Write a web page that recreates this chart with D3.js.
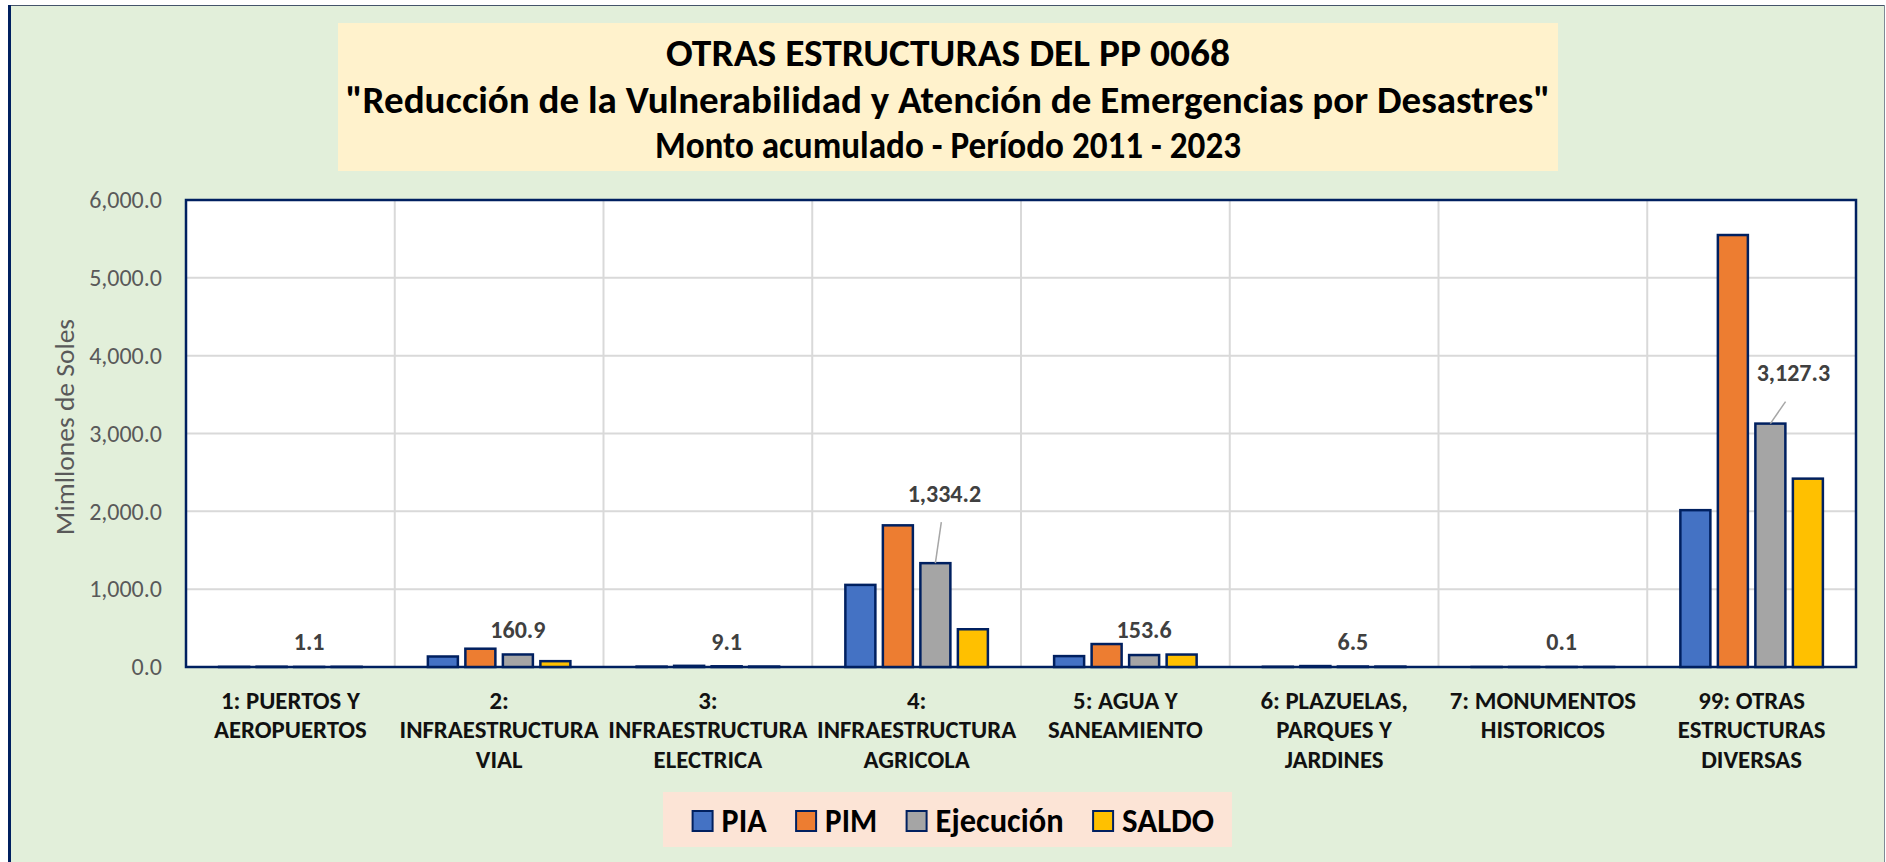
<!DOCTYPE html>
<html><head><meta charset="utf-8">
<script src="https://cdn.jsdelivr.net/npm/d3@7"></script>
<style>
html,body{margin:0;padding:0;background:#fff;}
svg{display:block;}
text{font-family:Carlito,Calibri,Lato,"Open Sans",sans-serif;}
</style>
</head><body>
<svg id="c" width="1886" height="862"></svg>
<script>
// ---------- DATA ----------
const titleLines = [
  "OTRAS ESTRUCTURAS DEL PP 0068",
  "\"Reducción de la Vulnerabilidad y Atención de Emergencias por Desastres\"",
  "Monto acumulado - Período 2011 - 2023"
];
const categoryLines = [
  ["1: PUERTOS Y", "AEROPUERTOS"],
  ["2:", "INFRAESTRUCTURA", "VIAL"],
  ["3:", "INFRAESTRUCTURA", "ELECTRICA"],
  ["4:", "INFRAESTRUCTURA", "AGRICOLA"],
  ["5: AGUA Y", "SANEAMIENTO"],
  ["6: PLAZUELAS,", "PARQUES Y", "JARDINES"],
  ["7: MONUMENTOS", "HISTORICOS"],
  ["99: OTRAS", "ESTRUCTURAS", "DIVERSAS"]
];
const categories = categoryLines.map(l => l.join(" "));
const seriesNames = ["PIA", "PIM", "Ejecución", "SALDO"];
const PIA       = [2.0, 135, 5.0, 1055, 140, 3.0, 0.1, 2015];
const PIM       = [3.5, 235, 15, 1820, 295, 12, 0.3, 5550];
const EJECUCION = [1.1, 160.9, 9.1, 1334.2, 153.6, 6.5, 0.1, 3127.3];
const SALDO     = [2.4, 75, 6, 485, 160, 5.5, 0.2, 2420];
const yTicks = [0, 1000, 2000, 3000, 4000, 5000, 6000];
const yTitle = "Mimllones de Soles";

// ---------- LAYOUT / STYLE ----------
const W = 1886, H = 862;
const plot = {left: 186, top: 200, right: 1856, bottom: 667};
const colors = ["#4472C4", "#ED7D31", "#A5A5A5", "#FFC000"];
const navy = "#002060";
const FONT = "Carlito,Calibri,Lato,'Open Sans',sans-serif";
// pixel nudges for the moved data labels (with leader lines)
const labelNudge = {3: [9, -45], 7: [23, -26]};
const titleWidths = [564, 1205, 586];
const legendTextWidths = [45, 52, 128, 92];

const seriesValues = [PIA, PIM, EJECUCION, SALDO];
const svg = d3.select("#c");

// chart background
svg.append("rect").attr("x", 9).attr("y", 5).attr("width", 1876).attr("height", H)
  .attr("fill", "#E2EFDA");
svg.append("line").attr("x1", 9).attr("x2", 1885).attr("y1", 5.5).attr("y2", 5.5)
  .attr("stroke", "#44546A").attr("stroke-width", 1);
svg.append("line").attr("x1", 1884.5).attr("x2", 1884.5).attr("y1", 5).attr("y2", H)
  .attr("stroke", "#7F8A96").attr("stroke-width", 1);
svg.append("line").attr("x1", 9.5).attr("x2", 9.5).attr("y1", 5).attr("y2", H)
  .attr("stroke", navy).attr("stroke-width", 3);

// title box
svg.append("rect").attr("x", 338).attr("y", 23).attr("width", 1220).attr("height", 148)
  .attr("fill", "#FFF2CC");
const titleY = [66, 112.5, 157.5];
titleLines.forEach((t, i) => {
  svg.append("text").attr("x", 948).attr("y", titleY[i]).attr("text-anchor", "middle")
    .attr("font-size", 38).attr("font-weight", "bold").attr("fill", "#000")
    .attr("textLength", titleWidths[i]).attr("lengthAdjust", "spacingAndGlyphs").text(t);
});

// scales
const x0 = d3.scaleBand().domain(categories).range([plot.left, plot.right]).paddingInner(0).paddingOuter(0);
const x1 = d3.scaleBand().domain(seriesNames).range([0, x0.bandwidth()]).paddingInner(0.2).paddingOuter(0.883);
const y = d3.scaleLinear().domain([0, 6000]).range([plot.bottom, plot.top]);

// plot area
svg.append("rect").attr("x", plot.left).attr("y", plot.top)
  .attr("width", plot.right - plot.left).attr("height", plot.bottom - plot.top).attr("fill", "#fff");

// gridlines
const grid = svg.append("g");
grid.selectAll("line.h").data(yTicks.filter(t => t > 0 && t < 6000)).join("line")
  .attr("x1", plot.left).attr("x2", plot.right)
  .attr("y1", d => y(d)).attr("y2", d => y(d))
  .attr("stroke", "#D9D9D9").attr("stroke-width", 2);
grid.selectAll("line.v").data(categories.slice(1)).join("line")
  .attr("x1", d => x0(d)).attr("x2", d => x0(d))
  .attr("y1", plot.top).attr("y2", plot.bottom)
  .attr("stroke", "#D9D9D9").attr("stroke-width", 2);

// y axis
const yAxis = d3.axisLeft(y).tickValues(yTicks).tickFormat(d3.format(",.1f")).tickSize(0).tickPadding(24);
const yg = svg.append("g").attr("transform", `translate(${plot.left},0)`).call(yAxis);
yg.select(".domain").remove();
yg.selectAll("text").attr("font-size", 24).attr("fill", "#595959").attr("font-family", FONT);

svg.append("text").attr("transform", "translate(74,427) rotate(-90)")
  .attr("text-anchor", "middle").attr("font-size", 27.5).attr("fill", "#595959").text(yTitle);

// plot border
svg.append("rect").attr("x", plot.left).attr("y", plot.top)
  .attr("width", plot.right - plot.left).attr("height", plot.bottom - plot.top)
  .attr("fill", "none").attr("stroke", navy).attr("stroke-width", 2.5);

// bars
const groups = svg.append("g").selectAll("g").data(categories).join("g")
  .attr("transform", d => `translate(${x0(d)},0)`);
groups.selectAll("rect").data((c, ci) => seriesNames.map((s, si) => ({s, si, v: seriesValues[si][ci]})))
  .join("rect")
  .attr("x", d => x1(d.s)).attr("width", x1.bandwidth())
  .attr("y", d => y(d.v)).attr("height", d => y(0) - y(d.v))
  .attr("fill", d => colors[d.si]).attr("stroke", navy).attr("stroke-width", 2.5);

// data labels (Ejecución)
const fmt = d3.format(",.1f");
EJECUCION.forEach((v, i) => {
  const cx = x0(categories[i]) + x1("Ejecución") + x1.bandwidth() / 2;
  const top = y(v);
  const n = labelNudge[i] || [0, 0];
  const lx = cx + n[0], ly = top - 25 + n[1];
  if (labelNudge[i]) {
    svg.append("line").attr("x1", cx).attr("y1", top)
      .attr("x2", cx + n[0] * 0.66).attr("y2", ly + 29)
      .attr("stroke", "#A6A6A6").attr("stroke-width", 1.5);
  }
  svg.append("text").attr("x", lx).attr("y", ly).attr("dy", "0.35em")
    .attr("text-anchor", "middle").attr("font-size", 24).attr("font-weight", "bold")
    .attr("fill", "#404040").text(fmt(v));
});

// x labels
categoryLines.forEach((lines, i) => {
  const cx = x0(categories[i]) + x0.bandwidth() / 2;
  const t = svg.append("text").attr("text-anchor", "middle").attr("font-size", 24.8)
    .attr("font-weight", "bold").attr("fill", "#111");
  lines.forEach((ln, j) => {
    t.append("tspan").attr("x", cx).attr("y", 709 + j * 29.3).text(ln);
  });
});

// legend
svg.append("rect").attr("x", 663).attr("y", 792).attr("width", 569).attr("height", 55).attr("fill", "#FCE4D6");
let lx = 692.6;
seriesNames.forEach((s, i) => {
  svg.append("rect").attr("x", lx).attr("y", 811).attr("width", 20).attr("height", 20)
    .attr("fill", colors[i]).attr("stroke", navy).attr("stroke-width", 2);
  svg.append("text").attr("x", lx + 29).attr("y", 832).attr("font-size", 35)
    .attr("font-weight", "bold").attr("fill", "#000")
    .attr("textLength", legendTextWidths[i]).attr("lengthAdjust", "spacingAndGlyphs").text(s);
  lx += 29 + legendTextWidths[i] + 29.5;
});
</script>
</body></html>
